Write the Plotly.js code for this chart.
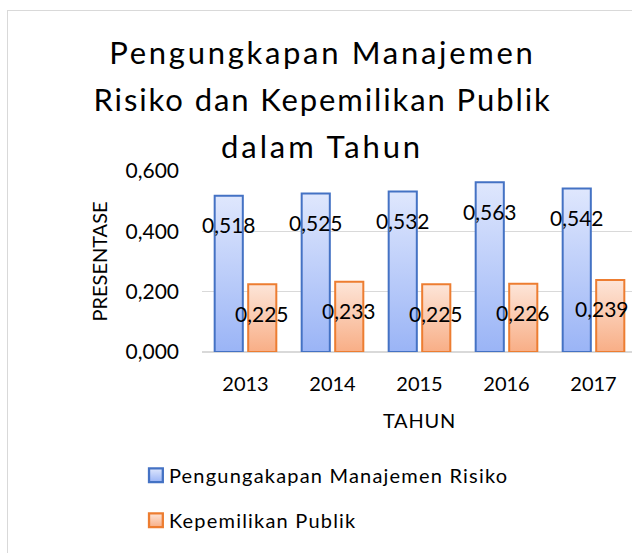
<!DOCTYPE html>
<html>
<head>
<meta charset="utf-8">
<script src="https://cdn.plot.ly/plotly-3.0.1.min.js"></script>
<style>
  html, body { margin: 0; padding: 0; background: #ffffff; width: 632px; height: 553px; overflow: hidden; }
  #chart { position: absolute; left: 0; top: 0; width: 640px; height: 553px; }
  #frame { position: absolute; left: 7px; top: 10px; width: 700px; height: 700px; border: 1.5px solid #d9d9d9; pointer-events: none; z-index: 5; }
</style>
</head>
<body>
<div id="chart"></div>
<div id="frame"></div>
<script>
// ---- data ----
var years = ['2013', '2014', '2015', '2016', '2017'];
var seriesNames = ['Pengungakapan Manajemen Risiko', 'Kepemilikan Publik'];
var manajemenRisiko = [0.518, 0.525, 0.532, 0.563, 0.542];
var kepemilikanPublik = [0.225, 0.233, 0.225, 0.226, 0.239];
var labelsRisiko = ['0,518', '0,525', '0,532', '0,563', '0,542'];
var labelsPublik = ['0,225', '0,233', '0,225', '0,226', '0,239'];
var titleLines = ['Pengungkapan Manajemen', 'Risiko dan Kepemilikan Publik', 'dalam Tahun'];
var yTicks = [0, 0.2, 0.4, 0.6];

var FONT = 'Lato, Carlito, Calibri, "Open Sans", sans-serif';
var BARGAP = 0.23;
var W = 640, ML = 202, MR = 3, VISIBLE_RIGHT = 629, LABEL_HALF = 27;
var plotW = W - ML - MR;
var catW = plotW / years.length;
var titleTracking = ['2.7px', '1.9px', '2.9px'];

var data = [
  {
    type: 'bar', name: seriesNames[0], x: years, y: manajemenRisiko,
    legendgroup: 'a',
    marker: { color: '#bccdfa', line: { color: '#4472c4', width: 2 } },
    hoverinfo: 'skip'
  },
  {
    type: 'bar', name: seriesNames[1], x: years, y: kepemilikanPublik,
    legendgroup: 'b',
    marker: { color: '#fbcbb0', line: { color: '#ed7d31', width: 2 } },
    hoverinfo: 'skip'
  }
];

var annotations = [];
var off = (1 - BARGAP) / 4;
function labelShift(xData) {
  var cPx = ML + (xData + 0.5) * catW;
  return Math.min(0, VISIBLE_RIGHT - (cPx + LABEL_HALF));
}
years.forEach(function (yr, i) {
  annotations.push({ xref: 'x', yref: 'y', x: i - off, y: manajemenRisiko[i], text: labelsRisiko[i],
    showarrow: false, yanchor: 'middle', xanchor: 'center', yshift: -29, xshift: labelShift(i - off),
    font: { family: FONT, size: 21, color: '#000' } });
  annotations.push({ xref: 'x', yref: 'y', x: i + off, y: kepemilikanPublik[i], text: labelsPublik[i],
    showarrow: false, yanchor: 'middle', xanchor: 'center', yshift: -29, xshift: labelShift(i + off),
    font: { family: FONT, size: 21, color: '#000' } });
});
var titleY = [52, 99, 146];
titleLines.forEach(function (t, i) {
  annotations.push({ xref: 'paper', yref: 'paper', x: (322 - ML) / plotW, y: (352 - titleY[i]) / 181,
    text: t, showarrow: false, xanchor: 'center', yanchor: 'middle',
    font: { family: FONT, size: 31, color: '#000' } });
});

var layout = {
  width: W, height: 553,
  margin: { l: ML, r: MR, t: 171, b: 201, pad: 0 },
  paper_bgcolor: 'rgba(0,0,0,0)', plot_bgcolor: 'rgba(0,0,0,0)',
  separators: ',.',
  font: { family: FONT, size: 20, color: '#000' },
  barmode: 'group', bargap: BARGAP, bargroupgap: 0.16,
  showlegend: true,
  legend: {
    orientation: 'v', x: -0.168, xanchor: 'left', y: -0.573, yanchor: 'top',
    font: { family: FONT, size: 20, color: '#000' },
    traceorder: 'grouped', tracegroupgap: 16,
    bgcolor: 'rgba(0,0,0,0)'
  },
  xaxis: {
    type: 'category', range: [-0.5, 4.5], showgrid: false, zeroline: false,
    showline: false, ticks: '', ticklabelstandoff: 18,
    tickfont: { family: FONT, size: 20, color: '#000' },
    title: { text: 'TAHUN', font: { family: FONT, size: 20, color: '#000' }, standoff: 19 }
  },
  yaxis: {
    range: [0, 0.6], tickvals: yTicks, tickformat: '.3f',
    showgrid: true, gridcolor: '#d9d9d9', gridwidth: 1.5,
    zeroline: true, zerolinecolor: '#d9d9d9', zerolinewidth: 1.5,
    showline: false, ticks: '', ticklabelstandoff: 22,
    tickfont: { family: FONT, size: 21, color: '#000' },
    title: { text: 'PRESENTASE', font: { family: FONT, size: 20, color: '#000' }, standoff: 12 }
  },
  annotations: annotations
};

Plotly.newPlot('chart', data, layout, { displayModeBar: false, staticPlot: true }).then(function (gd) {
  var NS = 'http://www.w3.org/2000/svg';
  var svg = gd.querySelector('svg.main-svg');
  var defs = document.createElementNS(NS, 'defs');
  var grads = [['#dfe7fd', '#9ab4f6'], ['#fde5d8', '#f8ae86']];
  grads.forEach(function (g, i) {
    var lg = document.createElementNS(NS, 'linearGradient');
    lg.setAttribute('id', 'barGrad' + i);
    lg.setAttribute('x1', '0'); lg.setAttribute('y1', '0');
    lg.setAttribute('x2', '0'); lg.setAttribute('y2', '1');
    var s1 = document.createElementNS(NS, 'stop');
    s1.setAttribute('offset', '0'); s1.setAttribute('stop-color', g[0]);
    var s2 = document.createElementNS(NS, 'stop');
    s2.setAttribute('offset', '1'); s2.setAttribute('stop-color', g[1]);
    lg.appendChild(s1); lg.appendChild(s2); defs.appendChild(lg);
  });
  svg.insertBefore(defs, svg.firstChild);
  gd.querySelectorAll('.barlayer .trace.bars').forEach(function (tr) {
    var idx = tr.__data__ && tr.__data__[0] && tr.__data__[0].trace ? tr.__data__[0].trace.index : 0;
    tr.querySelectorAll('path').forEach(function (p) { p.style.fill = 'url(#barGrad' + idx + ')'; });
  });
  gd.querySelectorAll('.legend [clip-path]').forEach(function (e) { e.removeAttribute('clip-path'); });
  gd.querySelectorAll('.legend .traces').forEach(function (tr) {
    var idx = tr.__data__ && tr.__data__[0] && tr.__data__[0].trace ? tr.__data__[0].trace.index : 0;
    tr.querySelectorAll('.legendpoints path').forEach(function (p) {
      p.style.fill = 'url(#barGrad' + idx + ')';
      p.setAttribute('transform', 'translate(27,0) scale(1.15)');
    });
    tr.querySelectorAll('text.legendtext').forEach(function (t) { t.style.letterSpacing = '1.2px'; });
  });
  // wider tracking, as in the reference rendering
  gd.querySelectorAll('.annotation text').forEach(function (t) {
    var k = titleLines.indexOf(t.textContent);
    if (k >= 0) t.style.letterSpacing = titleTracking[k];
  });
  gd.querySelectorAll('.g-xtitle text').forEach(function (t) { t.style.letterSpacing = '0.8px'; });
});
</script>
</body>
</html>
